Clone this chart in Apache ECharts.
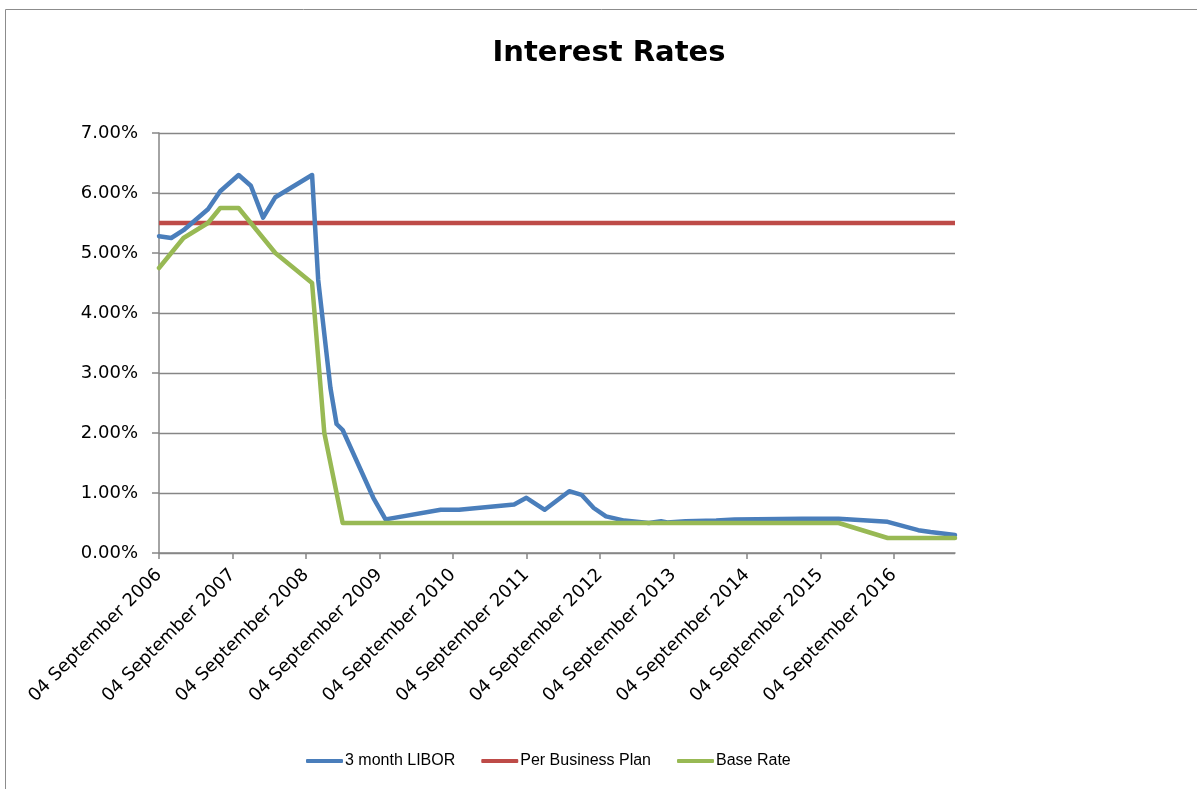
<!DOCTYPE html>
<html>
<head>
<meta charset="utf-8">
<script src="https://cdn.jsdelivr.net/npm/echarts@6/dist/echarts.min.js"></script>
<style>
html,body{margin:0;padding:0;background:#fff;}
#chart{width:1197px;height:789px;}
</style>
</head>
<body>
<div id="chart"></div>
<script>
// ---- Data ----
const monthNames = ['January','February','March','April','May','June','July','August','September','October','November','December'];
const axisStart = '2006-09';
const axisEnd = '2017-07';

const liborDates = ['2006-09','2006-11','2007-01','2007-05','2007-07','2007-10','2007-12','2008-02','2008-04','2008-10','2008-11','2009-01','2009-02','2009-03','2009-08','2009-10','2010-07','2010-10','2011-07','2011-09','2011-12','2012-04','2012-06','2012-08','2012-10','2013-01','2013-05','2013-07','2013-08','2013-11','2014-04','2014-07','2015-06','2015-12','2016-08','2017-01','2017-03','2017-07'];
const liborRate  = [5.28,5.25,5.38,5.73,6.03,6.30,6.12,5.59,5.93,6.30,4.55,2.75,2.15,2.05,0.92,0.56,0.72,0.72,0.81,0.92,0.72,1.03,0.97,0.75,0.61,0.54,0.50,0.53,0.51,0.53,0.54,0.56,0.57,0.57,0.52,0.38,0.35,0.30];

const planDates = ['2006-09','2017-07'];
const planRate  = [5.50,5.50];

const baseDates = ['2006-09','2006-11','2007-01','2007-05','2007-07','2007-10','2008-04','2008-10','2008-12','2009-02','2009-03','2015-12','2016-08','2017-07'];
const baseRate  = [4.75,5.00,5.25,5.50,5.75,5.75,5.00,4.50,2.00,1.00,0.50,0.50,0.25,0.25];

const yTicks = [0,1,2,3,4,5,6,7];

// ---- Build categories (monthly, labelled on the 4th) ----
function ym(s){ const p = s.split('-'); return {y:+p[0], m:+p[1]}; }
function monthIndex(s){ const a = ym(axisStart), b = ym(s); return (b.y-a.y)*12 + (b.m-a.m); }
const categories = [];
for (let i = 0; i <= monthIndex(axisEnd); i++) {
  const a = ym(axisStart);
  const t = (a.m - 1) + i;
  const y = a.y + Math.floor(t/12);
  const m = t % 12;
  categories.push('04 ' + monthNames[m] + ' ' + y);
}
function pairs(dates, vals){ return dates.map((d,i)=>[monthIndex(d), vals[i]]); }

const chart = echarts.init(document.getElementById('chart'), null, {renderer:'canvas'});
const axisGrey = '#868686';
chart.setOption({
  animation: false,
  backgroundColor: '#ffffff',
  title: {
    text: 'Interest Rates',
    left: 604, top: 34, textAlign: 'center',
    textStyle: {fontFamily: 'DejaVu Sans', fontWeight: 'bold', fontSize: 29, color: '#000'}
  },
  legend: {
    left: 301, top: 748,
    itemWidth: 37, itemHeight: 4, itemGap: 26,
    icon: 'roundRect',
    textStyle: {fontFamily: 'Liberation Sans', fontSize: 16, color: '#000', padding: [0,0,0,-3]},
    data: ['3 month LIBOR','Per Business Plan','Base Rate']
  },
  grid: {left: 159, right: 242, top: 133, bottom: 236, containLabel: false},
  xAxis: {
    type: 'category',
    data: categories,
    boundaryGap: false,
    axisLine: {lineStyle: {color: axisGrey, width: 1.5}},
    axisTick: {show: true, interval: 11, length: 6, lineStyle: {color: axisGrey, width: 1.5}},
    axisLabel: {
      interval: 11, rotate: 45, margin: 19,
      padding: [26,0,0,0],
      fontFamily: 'DejaVu Sans', fontSize: 18, color: '#000'
    },
    splitLine: {show: false}
  },
  yAxis: {
    type: 'value',
    min: 0, max: 7, interval: 1,
    axisLine: {show: true, lineStyle: {color: axisGrey, width: 1.5}},
    axisTick: {show: true, length: 7, lineStyle: {color: axisGrey, width: 1.5}},
    axisLabel: {
      margin: 21,
      fontFamily: 'DejaVu Sans', fontSize: 18, color: '#000',
      formatter: v => v.toFixed(2) + '%'
    },
    splitLine: {show: true, lineStyle: {color: axisGrey, width: 1.3}}
  },
  series: [
    {
      name: '3 month LIBOR', type: 'line', data: pairs(liborDates, liborRate),
      symbol: 'none', z: 3,
      lineStyle: {color: '#4A7EBB', width: 4.5, join: 'round', cap: 'round'},
      itemStyle: {color: '#4A7EBB'}
    },
    {
      name: 'Per Business Plan', type: 'line', data: pairs(planDates, planRate),
      symbol: 'none', z: 2,
      lineStyle: {color: '#BE4B48', width: 4.5},
      itemStyle: {color: '#BE4B48'}
    },
    {
      name: 'Base Rate', type: 'line', data: pairs(baseDates, baseRate),
      symbol: 'none', z: 4,
      lineStyle: {color: '#98B954', width: 4.5, join: 'round', cap: 'round'},
      itemStyle: {color: '#98B954'}
    }
  ],
  graphic: [{
    type: 'rect', silent: true, z: -1,
    shape: {x: 5.5, y: 9.5, width: 1400, height: 1000},
    style: {fill: null, stroke: '#8c8c8c', lineWidth: 1}
  }]
});
</script>
</body>
</html>
